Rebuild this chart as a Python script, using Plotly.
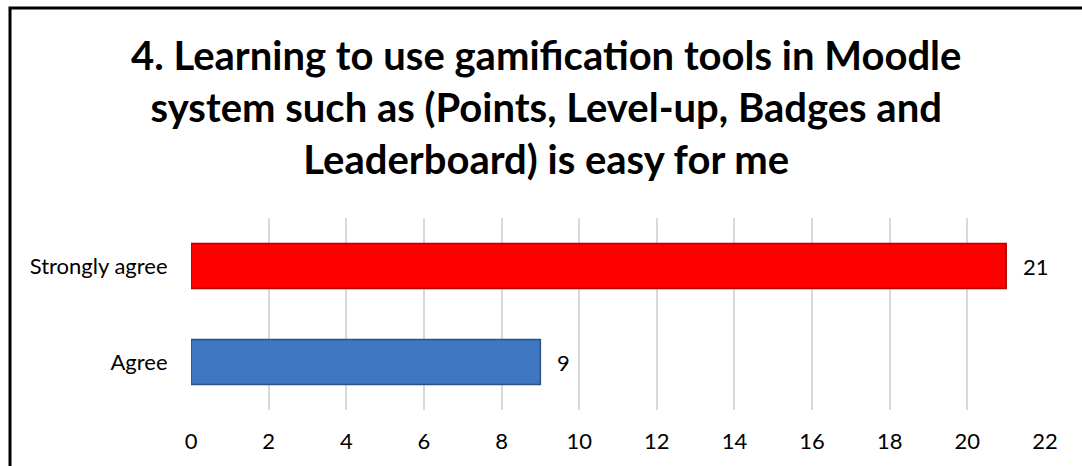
import plotly.graph_objects as go

categories = ["Agree", "Strongly agree"]
values = [9, 21]
bar_colors = ["#3F76C1", "#FE0000"]
edge_colors = ["#2A5285", "#B00000"]
x_ticks = list(range(0, 23, 2))
title = ("4. Learning to use gamification tools in Moodle<br>"
         "system such as (Points, Level-up, Badges and<br>"
         "Leaderboard) is easy for me")

W, H = 1082, 466
ml, mr, mt, mb = 191, 37, 218, 56
pw, ph = W - ml - mr, H - mt - mb

fig = go.Figure(go.Bar(
    x=values,
    y=categories,
    orientation="h",
    marker=dict(color=bar_colors, line=dict(color=edge_colors, width=1.5)),
    width=0.47,
    hoverinfo="x+y",
))

for v, c in zip(values, categories):
    fig.add_annotation(x=v, y=c, text=str(v), showarrow=False,
                       xanchor="left", xshift=15,
                       font=dict(family="Lato", size=22, color="#000000"))

# title as a centred paper annotation
fig.add_annotation(text=title, xref="paper", yref="paper",
                   x=(546 - ml) / pw, y=(H - mb - 29) / ph,
                   xanchor="center", yanchor="top", showarrow=False, align="center",
                   font=dict(family="Lato", size=40, color="#000000", weight="bold"))

# outer chart border (the frame runs past the right/bottom of the picture)
fig.add_shape(type="rect", xref="paper", yref="paper",
              x0=(10 - ml) / pw, x1=(W + 20 - ml) / pw,
              y0=-(mb + 20) / ph, y1=(H - mb - 8) / ph,
              line=dict(color="#000000", width=3), fillcolor="rgba(0,0,0,0)", layer="below")

fig.update_layout(
    width=W, height=H,
    margin=dict(l=ml, r=mr, t=mt, b=mb),
    paper_bgcolor="white", plot_bgcolor="white",
    font=dict(family="Lato", color="#000000"),
    xaxis=dict(range=[0, 22], tickvals=x_ticks, showgrid=True, gridcolor="#D9D9D9",
               gridwidth=1.5, zeroline=False, showline=False, ticks="outside", ticklen=12,
               tickcolor="rgba(0,0,0,0)", tickfont=dict(size=22), fixedrange=True),
    yaxis=dict(showgrid=False, zeroline=False, showline=False, ticks="outside", ticklen=18,
               tickcolor="rgba(0,0,0,0)", tickfont=dict(size=22)),
    bargap=0.53,
    showlegend=False,
)

fig.write_html("out.html", config={"displayModeBar": False},
               post_script="document.body.style.margin='0';")
